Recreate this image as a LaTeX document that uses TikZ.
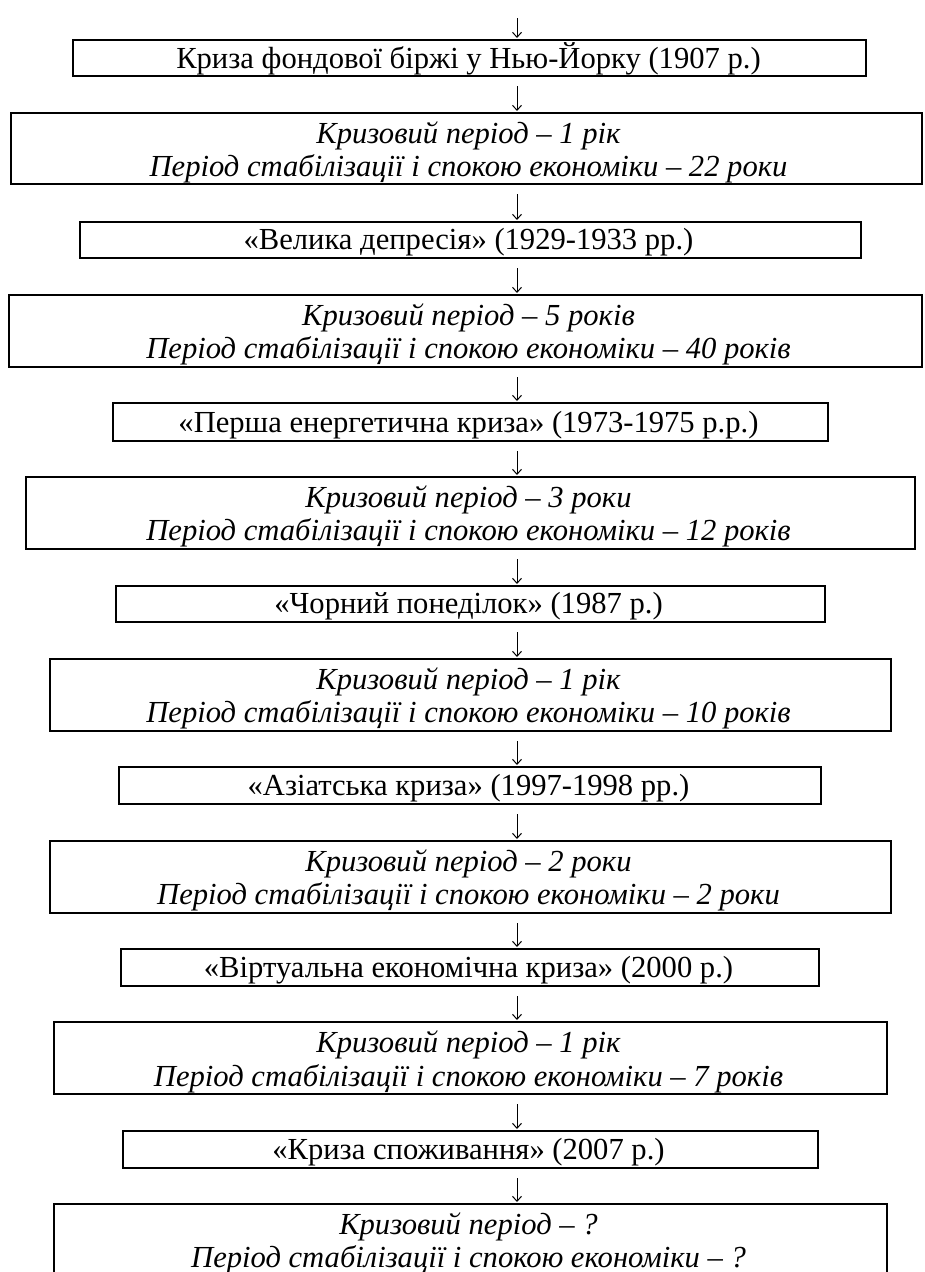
\documentclass[tikz,border=0pt]{standalone}
\usepackage{fontspec}
\setmainfont{Liberation Serif}
\usetikzlibrary{arrows.meta}
\begin{document}
\begin{tikzpicture}[x=1pt,y=-1pt,
  frame/.style={draw, line width=1.3pt, inner sep=0pt, outer sep=0pt, anchor=north west},
  lbl/.style={anchor=base, inner sep=0pt, font=\fontsize{30.6}{34}\selectfont},
  ilbl/.style={lbl, font=\fontsize{30.6}{34}\selectfont\itshape},
  conn/.style={line width=1pt, -{Straight Barb[length=5pt,width=9pt,line width=1pt]}, shorten <=10pt, shorten >=2pt}]
\useasboundingbox (0,0) rectangle (924,1272);
% boxes
\node[frame, minimum width=793pt, minimum height=36pt] (b1) at (73,40) {};
\node[frame, minimum width=911pt, minimum height=71pt] (b2) at (11,113) {};
\node[frame, minimum width=781pt, minimum height=36pt] (b3) at (80,222) {};
\node[frame, minimum width=913pt, minimum height=72pt] (b4) at (9,295) {};
\node[frame, minimum width=715pt, minimum height=38pt] (b5) at (113,403) {};
\node[frame, minimum width=889pt, minimum height=72pt] (b6) at (26,477) {};
\node[frame, minimum width=709pt, minimum height=36pt] (b7) at (116,586) {};
\node[frame, minimum width=841pt, minimum height=72pt] (b8) at (50,659) {};
\node[frame, minimum width=702pt, minimum height=37pt] (b9) at (119,767) {};
\node[frame, minimum width=841pt, minimum height=72pt] (b10) at (50,841) {};
\node[frame, minimum width=698pt, minimum height=37pt] (b11) at (121,949) {};
\node[frame, minimum width=833pt, minimum height=72pt] (b12) at (54,1022) {};
\node[frame, minimum width=695pt, minimum height=37pt] (b13) at (123,1131) {};
\node[frame, minimum width=833pt, minimum height=72pt] (b14) at (54,1204) {};
% texts
\node[lbl] (t1) at (468.5,68) {Криза фондової біржі у Нью-Йорку (1907 р.)};
\node[ilbl] (t2a) at (468.5,143) {Кризовий період – 1 рік};
\node[ilbl] (t2b) at (468.5,176) {Період стабілізації і спокою економіки – 22 роки};
\node[lbl] (t3) at (468.5,249.5) {«Велика депресія» (1929-1933 рр.)};
\node[ilbl] (t4a) at (468.5,325) {Кризовий період – 5 років};
\node[ilbl] (t4b) at (468.5,358) {Період стабілізації і спокою економіки – 40 років};
\node[lbl] (t5) at (468.5,432.5) {«Перша енергетична криза» (1973-1975 р.р.)};
\node[ilbl] (t6a) at (468.5,507) {Кризовий період – 3 роки};
\node[ilbl] (t6b) at (468.5,540) {Період стабілізації і спокою економіки – 12 років};
\node[lbl] (t7) at (468.5,613.5) {«Чорний понеділок» (1987 р.)};
\node[ilbl] (t8a) at (468.5,689) {Кризовий період – 1 рік};
\node[ilbl] (t8b) at (468.5,722) {Період стабілізації і спокою економіки – 10 років};
\node[lbl] (t9) at (468.5,795.5) {«Азіатська криза» (1997-1998 рр.)};
\node[ilbl] (t10a) at (468.5,871) {Кризовий період – 2 роки};
\node[ilbl] (t10b) at (468.5,904) {Період стабілізації і спокою економіки – 2 роки};
\node[lbl] (t11) at (468.5,977.5) {«Віртуальна економічна криза» (2000 р.)};
\node[ilbl] (t12a) at (468.5,1052) {Кризовий період – 1 рік};
\node[ilbl] (t12b) at (468.5,1086) {Період стабілізації і спокою економіки – 7 років};
\node[lbl] (t13) at (468.5,1159.5) {«Криза споживання» (2007 р.)};
\node[ilbl] (t14a) at (468.5,1234) {Кризовий період – ?};
\node[ilbl] (t14b) at (468.5,1267) {Період стабілізації і спокою економіки – ?};
% connectors
\coordinate (top) at (517,18);
\draw[conn, shorten <=0pt] (top) -- (b1.north -| top);
\draw[conn] (b1.south -| top) -- (b2.north -| top);
\draw[conn] (b2.south -| top) -- (b3.north -| top);
\draw[conn] (b3.south -| top) -- (b4.north -| top);
\draw[conn] (b4.south -| top) -- (b5.north -| top);
\draw[conn] (b5.south -| top) -- (b6.north -| top);
\draw[conn] (b6.south -| top) -- (b7.north -| top);
\draw[conn] (b7.south -| top) -- (b8.north -| top);
\draw[conn] (b8.south -| top) -- (b9.north -| top);
\draw[conn] (b9.south -| top) -- (b10.north -| top);
\draw[conn] (b10.south -| top) -- (b11.north -| top);
\draw[conn] (b11.south -| top) -- (b12.north -| top);
\draw[conn] (b12.south -| top) -- (b13.north -| top);
\draw[conn] (b13.south -| top) -- (b14.north -| top);
\end{tikzpicture}
\end{document}
